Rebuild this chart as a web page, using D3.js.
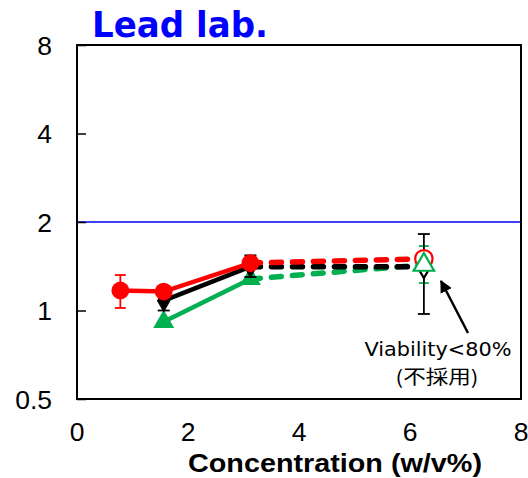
<!DOCTYPE html>
<html><head><meta charset="utf-8">
<script src="https://cdn.jsdelivr.net/npm/d3@7/dist/d3.min.js"></script>
<style>body{margin:0;background:#fff}svg{display:block}</style>
</head><body>
<svg id="c" width="528" height="478"></svg>
<script>
const conc = [0.78125, 1.5625, 3.125, 6.25];
const redVals = [1.17, 1.16, 1.45, 1.50];
const blackVals = [null, 1.08, 1.41, 1.41];
const greenVals = [null, 0.915, 1.28, 1.43];
const redErr = [[1.02, 1.32], null, null, null];
const blackErr = [null, [1.0, 1.16], [1.30, 1.54], [0.973, 1.82]];
const greenErr = [null, null, null, [1.24, 1.657]];
const yTicks = [0.5, 1, 2, 4, 8];
const xTicks = [0, 2, 4, 6, 8];
const refLine = 2;
const title = "Lead lab.";
const xTitle = "Concentration (w/v%)";
const note1 = "Viability<80%";
const note2 = "(不採用)";

const svg = d3.select("#c");
const L = 77, R = 521, T = 45, B = 399;
const x = d3.scaleLinear().domain([0, 8]).range([L, R]);
const y = d3.scaleLog().base(2).domain([0.5, 8]).range([B, T]);

svg.append("line").attr("x1", L).attr("x2", R).attr("y1", y(refLine)).attr("y2", y(refLine))
  .attr("stroke", "#0000ff").attr("stroke-width", 1.6);

const yAxis = d3.axisRight(y).tickValues(yTicks).tickSize(9).tickFormat("");
svg.append("g").attr("transform", `translate(${L},0)`).call(yAxis)
  .call(g => { g.select(".domain").remove(); g.selectAll("line").attr("stroke", "#000").attr("stroke-width", 1.5); });

svg.append("g").selectAll("text").data(yTicks).join("text")
  .attr("x", 52).attr("y", d => y(d)).attr("dy", "0.36em").attr("text-anchor", "end")
  .attr("font-family", "Liberation Sans, Arial, sans-serif").attr("font-size", 26.5).text(d => d);
svg.append("g").selectAll("text").data(xTicks).join("text")
  .attr("x", d => x(d)).attr("y", 441).attr("text-anchor", "middle")
  .attr("font-family", "Liberation Sans, Arial, sans-serif").attr("font-size", 26.5).text(d => d);

svg.append("text").attr("x", 92).attr("y", 37).attr("fill", "#0000ff")
  .attr("font-family", "DejaVu Sans, Verdana, sans-serif").attr("font-weight", "bold")
  .attr("font-size", 35).attr("textLength", 176).attr("lengthAdjust", "spacingAndGlyphs").text(title);
svg.append("text").attr("x", 335).attr("y", 472).attr("text-anchor", "middle")
  .attr("font-family", "Liberation Sans, Arial, sans-serif").attr("font-weight", "bold")
  .attr("font-size", 26).attr("textLength", 294).attr("lengthAdjust", "spacingAndGlyphs").text(xTitle);

const series = [
  {name: "green", vals: greenVals, err: greenErr, color: "#00b050", sym: d3.symbolTriangle, size: 190, cap: 5},
  {name: "black", vals: blackVals, err: blackErr, color: "#000000", sym: d3.symbolDiamond, size: 160, cap: 6},
  {name: "red", vals: redVals, err: redErr, color: "#ff0000", sym: d3.symbolCircle, size: 250, cap: 5.5}
];

const g = svg.append("g");
const solidIdx = [0, 1, 2];
const dashIdx = [2, 3];
series.forEach(s => {
  const pts = conc.map((c, i) => ({x: c, v: s.vals[i], e: s.err[i], i}));
  const line = d3.line().defined(d => d.v != null).x(d => x(d.x)).y(d => y(d.v));
  pts.filter(d => d.e).forEach(d => {
    const eg = g.append("g").attr("stroke", s.color).attr("stroke-width", 1.8);
    eg.append("line").attr("x1", x(d.x)).attr("x2", x(d.x)).attr("y1", y(d.e[0])).attr("y2", y(d.e[1]));
    eg.append("line").attr("x1", x(d.x) - s.cap).attr("x2", x(d.x) + s.cap).attr("y1", y(d.e[0])).attr("y2", y(d.e[0]));
    eg.append("line").attr("x1", x(d.x) - s.cap).attr("x2", x(d.x) + s.cap).attr("y1", y(d.e[1])).attr("y2", y(d.e[1]));
  });
  g.append("path").datum(pts.filter(d => solidIdx.includes(d.i))).attr("d", line)
    .attr("fill", "none").attr("stroke", s.color).attr("stroke-width", 4.5);
  g.append("path").datum(pts.filter(d => dashIdx.includes(d.i))).attr("d", line)
    .attr("fill", "none").attr("stroke", s.color).attr("stroke-width", 5.5)
    .attr("stroke-dasharray", "10,11").attr("stroke-linecap", "round");
  g.selectAll(null).data(pts.filter(d => d.v != null && solidIdx.includes(d.i))).join("path")
    .attr("d", d3.symbol().type(s.sym).size(s.size))
    .attr("transform", d => `translate(${x(d.x)},${y(d.v)})`)
    .attr("fill", s.color);
});
["red", "black", "green"].forEach(n => {
  const s = series.find(t => t.name === n);
  const d = {x: conc[3], v: s.vals[3]};
  g.append("path").attr("d", d3.symbol().type(s.sym).size(s.size * 0.95)())
    .attr("transform", `translate(${x(d.x)},${y(d.v)})`)
    .attr("fill", "#fff").attr("stroke", s.color).attr("stroke-width", 2.2);
});

svg.append("rect").attr("x", L).attr("y", T).attr("width", R - L).attr("height", B - T)
  .attr("fill", "none").attr("stroke", "#000").attr("stroke-width", 2);

svg.append("defs").append("marker").attr("id", "ah").attr("viewBox", "0 0 10 10")
  .attr("refX", 9).attr("refY", 5).attr("markerWidth", 5).attr("markerHeight", 5)
  .attr("orient", "auto").attr("markerUnits", "strokeWidth")
  .append("path").attr("d", "M0,0 L10,5 L0,10 Z").attr("fill", "#000");
svg.append("line").attr("x1", 468).attr("y1", 333).attr("x2", 441).attr("y2", 281)
  .attr("stroke", "#000").attr("stroke-width", 2.5).attr("marker-end", "url(#ah)");
svg.append("text").attr("x", 438).attr("y", 356).attr("text-anchor", "middle")
  .attr("font-family", "DejaVu Sans, Verdana, sans-serif").attr("font-size", 19)
  .attr("textLength", 147).attr("lengthAdjust", "spacingAndGlyphs").text(note1);
svg.append("text").attr("x", 437).attr("y", 384).attr("text-anchor", "middle")
  .attr("font-family", "Noto Sans CJK JP, DejaVu Sans, sans-serif").attr("font-size", 19)
  .attr("textLength", 83).attr("lengthAdjust", "spacingAndGlyphs").text(note2);
</script>
</body></html>
